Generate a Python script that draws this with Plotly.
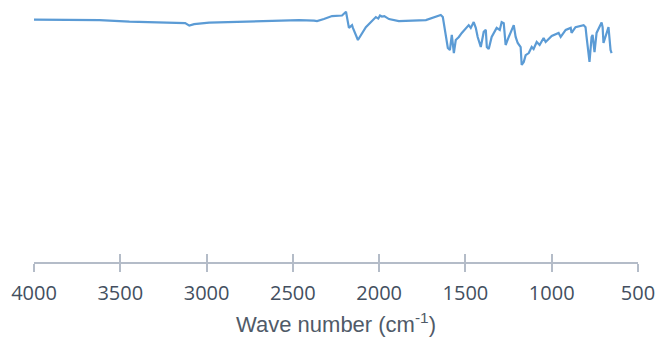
import plotly.graph_objects as go

# IR spectrum (wavenumber cm-1, transmittance %)
wavenumber = [4000, 3620, 3447, 3274, 3158, 3124, 3100, 3072, 2985, 2753, 2580, 2464,
              2377, 2360, 2320, 2273, 2215, 2192, 2175, 2157, 2152, 2123, 2077, 2019,
              2005, 1995, 1984, 1970, 1943, 1886, 1729, 1712, 1643, 1631, 1614, 1602,
              1590, 1579, 1567, 1556, 1538, 1521, 1481, 1469, 1452, 1440, 1429, 1411,
              1394, 1382, 1376, 1365, 1348, 1319, 1301, 1290, 1278, 1267, 1249, 1220,
              1209, 1197, 1180, 1174, 1162, 1151, 1133, 1116, 1105, 1087, 1070, 1047,
              1035, 1000, 960, 948, 919, 890, 885, 862, 815, 804, 798, 781, 769, 763,
              752, 740, 711, 705, 700, 688, 682, 671, 659, 653]
transmittance = [96.2, 96.0, 95.4, 95.0, 95.0, 94.8, 93.8, 94.4, 95.0, 95.4, 95.8, 96.0,
                 95.8, 95.6, 96.4, 97.6, 97.8, 99.3, 92.9, 94.0, 92.9, 88.1, 93.2, 97.2,
                 96.6, 97.8, 97.4, 97.6, 96.4, 95.6, 96.0, 96.4, 98.0, 97.2, 89.3, 84.9,
                 84.1, 90.1, 82.9, 88.1, 89.3, 90.9, 94.0, 92.9, 95.2, 92.9, 89.3, 85.3,
                 91.3, 92.1, 85.3, 84.5, 89.3, 92.9, 92.1, 95.2, 94.8, 86.1, 89.3, 94.0,
                 89.3, 86.9, 85.3, 78.2, 79.4, 82.1, 82.9, 85.3, 84.5, 87.3, 86.1, 88.9,
                 87.3, 89.7, 90.9, 89.3, 92.1, 92.9, 90.9, 93.2, 94.0, 93.2, 89.3, 79.4,
                 89.3, 90.1, 83.3, 90.9, 95.0, 93.2, 86.9, 89.3, 91.3, 93.2, 84.1, 82.9]
tick_vals = [4000, 3500, 3000, 2500, 2000, 1500, 1000, 500]
x_title = "Wave number (cm<sup>-1</sup>)"

axis_col = "#b4bcc8"
text_col = "#434f60"
title_col = "#505a68"
tick_font = "Open Sans, Liberation Sans, Arial, sans-serif"
title_font = "Liberation Sans, Arial, sans-serif"

fig = go.Figure()
fig.add_trace(go.Scatter(x=wavenumber, y=transmittance, mode="lines",
                         line=dict(color="#5b9bd5", width=2.2), showlegend=False,
                         hoverinfo="skip"))
# helper trace so the overlaying axis (inner tick halves) is drawn
fig.add_trace(go.Scatter(x=[tick_vals[0], tick_vals[-1]], y=[None, None], xaxis="x2",
                         mode="lines", showlegend=False, hoverinfo="skip"))

common = dict(range=[4000, 500], tickvals=tick_vals, showgrid=False, zeroline=False,
              showline=True, linecolor=axis_col, linewidth=1.5, automargin=False,
              tickcolor=axis_col, tickwidth=1.5, ticklen=8)

fig.update_layout(
    width=658, height=339,
    margin=dict(l=34, r=20, t=10, b=77),
    paper_bgcolor="white", plot_bgcolor="white",
    font=dict(family=tick_font, color=text_col),
    xaxis=dict(**common, ticks="outside",
               tickfont=dict(size=20, color=text_col, family=tick_font),
               ticklabelstandoff=4,
               title=dict(text=x_title, font=dict(size=22, color=title_col, family=title_font),
                          standoff=12)),
    xaxis2=dict(**common, ticks="inside", overlaying="x", anchor="y", side="bottom",
                showticklabels=False),
    yaxis=dict(range=[0, 100], visible=False, showgrid=False, zeroline=False),
)

fig.write_html("out.html")
